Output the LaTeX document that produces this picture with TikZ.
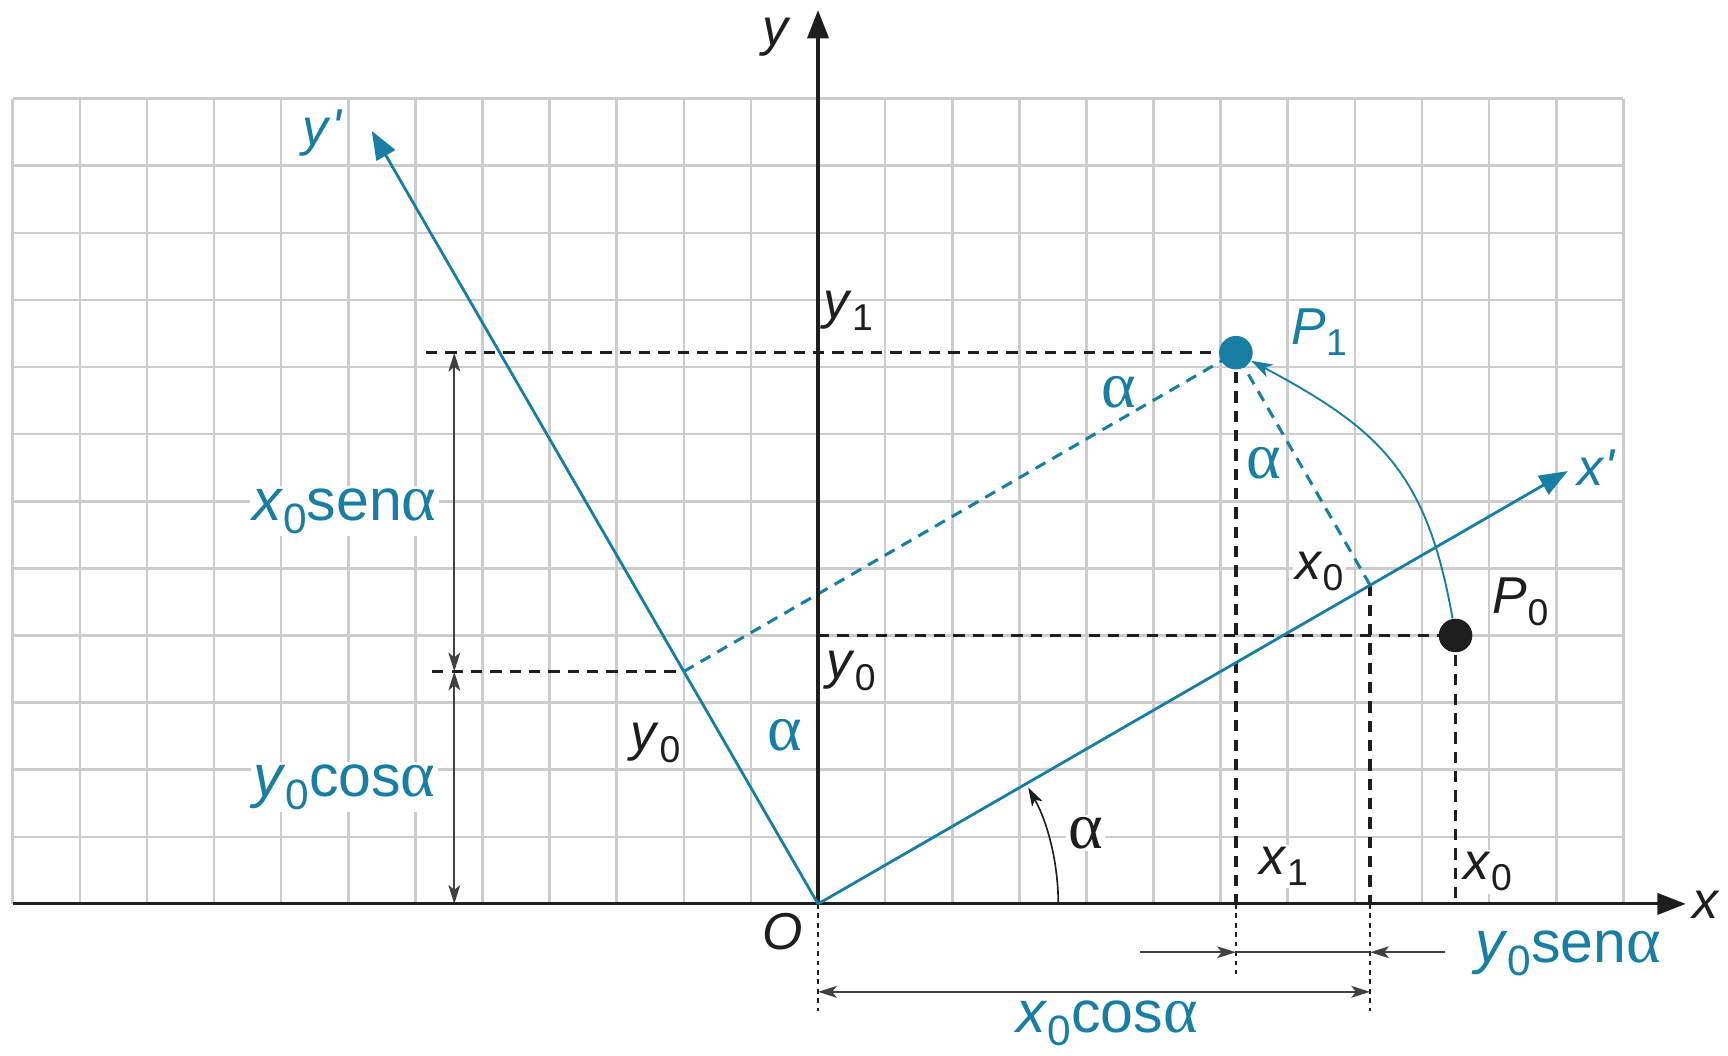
\documentclass[tikz,border=0pt]{standalone}
\usepackage{fontspec}
\setmainfont{Liberation Sans}
\newfontfamily\grk{Liberation Serif}
\usepackage{graphicx}
\usetikzlibrary{arrows.meta,calc}
\definecolor{cblue}{RGB}{24,126,163}
\definecolor{gridgray}{RGB}{204,204,204}
\definecolor{ink}{RGB}{30,30,30}
\newcommand{\sbs}[1]{\raisebox{-0.22em}{\scalebox{0.72}{#1}}}
\newcommand{\al}{{\grk\scalebox{1.12}{α}}}
\newcommand{\vi}[1]{\textit{#1}}
\newcommand{\prm}{\textit{\textquotesingle}}
\begin{document}
\begin{tikzpicture}[x=1cm,y=1cm,
  lbl/.style={font=\fontsize{22}{26}\selectfont, text=ink, inner sep=1pt},
  albl/.style={font=\fontsize{25}{30}\selectfont, text=cblue, inner sep=1pt},
  flbl/.style={font=\fontsize{25}{30}\selectfont, text=cblue, fill=white, inner sep=1pt},
  gridline/.style={gridgray, line width=1.1pt},
  axisline/.style={ink, line width=1.3pt, -{Triangle[length=12pt,width=9pt]}},
  baxis/.style={cblue, line width=1.2pt, -{Triangle[length=12pt,width=9pt]}},
  kdash/.style={ink, line width=1.4pt, dash pattern=on 4.8pt off 3.4pt},
  bdash/.style={cblue, line width=1.3pt, dash pattern=on 4.8pt off 3.4pt},
  fdash/.style={ink, line width=0.6pt, dash pattern=on 2pt off 2pt},
  dimline/.style={ink!85, line width=0.7pt},
  dimtip/.style={-{Stealth[length=8pt,width=5pt,inset=2pt]}},
  dimtips/.style={{Stealth[length=8pt,width=5pt,inset=2pt]}-{Stealth[length=8pt,width=5pt,inset=2pt]}},
  dot/.style={circle, inner sep=0pt, minimum size=0.5cm}
]
\useasboundingbox (-12.19,-2.265) rectangle (13.56,13.47);

% grid
\draw[gridline] (-12,0) grid (12,12);

% key points
\coordinate (O) at (0,0);
\coordinate (P0) at (9.5,4);
\coordinate (P1) at (6.227,8.214);
\coordinate (A) at (8.227,4.75);
\coordinate (B) at (-2,3.464);
\coordinate (Xend) at (12.93,0);
\coordinate (Yend) at (0,13.32);
\coordinate (XPend) at (30:12.9);
\coordinate (YPend) at (120:13.3);
\coordinate (Y0ax) at (0,4);
\coordinate (H1) at (-5.84,8.214);
\coordinate (H2) at (-5.75,3.464);
\coordinate (D1) at (-5.42,8.214);
\coordinate (D2) at (-5.42,3.464);
\coordinate (D3) at (-5.42,0);
\coordinate (P1x) at (6.227,0);
\coordinate (Ax) at (8.227,0);
\coordinate (P0x) at (9.5,0);
\coordinate (P1b) at (6.227,-1.05);
\coordinate (Ab) at (8.227,-1.6);
\coordinate (Ob) at (0,-1.6);
\coordinate (R1a) at (4.8,-0.72);
\coordinate (R1b) at (6.227,-0.72);
\coordinate (R1c) at (8.227,-0.72);
\coordinate (R1d) at (9.35,-0.72);
\coordinate (R2a) at (0,-1.31);
\coordinate (R2b) at (8.227,-1.31);
\coordinate (arcS) at (3.58,0);

% labels (white backgrounds hide the grid)
\node[lbl] (ly) at (-0.61,12.91) {\vi{y}};
\node[lbl] (lx) at (13.23,-0.02) {\vi{x}};
\node[lbl, text=cblue] (lyp) at (-7.38,11.49) {\vi{y}\prm};
\node[lbl, text=cblue] (lxp) at (11.6,6.5) {\vi{x}\prm};
\node[lbl, text=cblue] (lP1) at (7.47,8.52) {\vi{P}\sbs{1}};
\node[lbl] (lP0) at (10.47,4.5) {\vi{P}\sbs{0}};
\node[lbl] (ly1) at (0.45,8.84) {\vi{y}\sbs{1}};
\node[lbl] (ly0a) at (0.49,3.47) {\vi{y}\sbs{0}};
\node[albl] (la1) at (4.48,7.62) {\al};
\node[albl, fill=white] (la2) at (6.65,6.56) {\al};
\node[lbl, fill=white] (lx0a) at (7.47,4.95) {\vi{x}\sbs{0}};
\node[flbl] (lxs) at (-7.06,5.85) {\vi{x}\sbs{0}sen\al};
\node[flbl] (lyc) at (-7.06,1.74) {\vi{y}\sbs{0}cos\al};
\node[lbl, fill=white] (ly0b) at (-2.42,2.4) {\vi{y}\sbs{0}};
\node[albl, fill=white] (la3) at (-0.5,2.52) {\al};
\node[albl, text=ink, fill=white] (la4) at (3.99,1.06) {\al};
\node[lbl, fill=white] (lx1) at (6.94,0.56) {\vi{x}\sbs{1}};
\node[lbl, fill=white] (lx0b) at (9.98,0.48) {\vi{x}\sbs{0}};
\node[lbl] (lO) at (-0.53,-0.42) {\vi{O}};
\node[flbl] (lys) at (11.18,-0.73) {\vi{y}\sbs{0}sen\al};
\node[flbl] (lxc) at (4.31,-1.78) {\vi{x}\sbs{0}cos\al};

% black dashed construction lines
\draw[kdash] (H1) -- (P1);
\draw[kdash] (H2) -- (B);
\draw[kdash] (Y0ax) -- (P0);
\draw[kdash] (P1) -- (P1x);
\draw[kdash] (A) -- (Ax);
\draw[kdash] (P0) -- (P0x);
\draw[fdash] (P1x) -- (P1b);
\draw[fdash] (Ax) -- (Ab);
\draw[fdash] (O) -- (Ob);

% blue dashed lines
\draw[bdash] (B) -- (P1);
\draw[bdash] (A) -- (P1);

% dimension lines
\draw[dimline, dimtips] (D1) -- (D2);
\draw[dimline, dimtips] (D2) -- (D3);
\draw[dimline, dimtip] (R1a) -- (R1b);
\draw[dimline] (R1b) -- (R1c);
\draw[dimline, dimtip] (R1d) -- (R1c);
\draw[dimline, dimtips] (R2a) -- (R2b);

% axes
\draw[axisline] (-12,0) -- (Xend);
\draw[axisline] (O) -- (Yend);
\draw[baxis] (O) -- (XPend);
\draw[baxis] (O) -- (YPend);

% angle arc
\draw[ink, line width=0.7pt, -{Stealth[length=8pt,width=5pt,inset=2pt]}] (arcS) arc[start angle=0, end angle=29, radius=3.58];

% points
\node[dot, fill=cblue] (P1dot) at (P1) {};
\node[dot, fill=ink] (P0dot) at (P0) {};

% rotation arrow
\draw[cblue, line width=0.8pt, -{Stealth[length=9pt,width=6pt,inset=2.5pt]}] (P0dot) to[out=100, in=-28, looseness=1.15] (P1dot);
\end{tikzpicture}
\end{document}
